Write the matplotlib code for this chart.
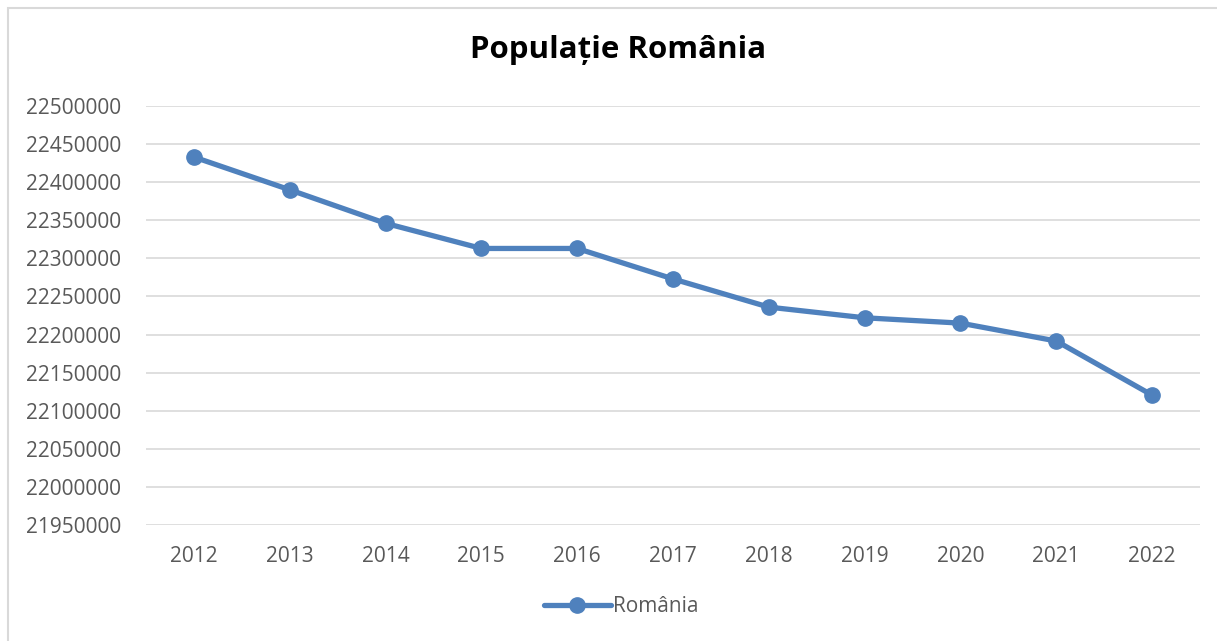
import matplotlib.pyplot as plt
from matplotlib.patches import Rectangle

# Data
years = ['2012', '2013', '2014', '2015', '2016', '2017',
         '2018', '2019', '2020', '2021', '2022']
population = [22433000, 22390000, 22346000, 22313000, 22313000, 22273000,
              22236000, 22222000, 22215000, 22191500, 22120500]
yticks = list(range(21950000, 22500001, 50000))

plt.rcParams['font.family'] = ['Open Sans', 'DejaVu Sans']

fig = plt.figure(figsize=(12.17, 6.41), dpi=100)

# grey chart frame like the Excel chart area
frame = Rectangle((8 / 1217, -0.01), 1.0, 1 - 8 / 641 + 0.01,
                  transform=fig.transFigure, fill=False,
                  edgecolor='#d9d9d9', linewidth=1.5)
fig.patches.append(frame)

ax = fig.add_axes([146 / 1217, 1 - 525 / 641, 1054 / 1217, 419 / 641])
x = list(range(len(years)))
ax.plot(x, population, color='#4f81bd', linewidth=3.8, marker='o',
        markersize=11, label='România', solid_capstyle='round')

ax.set_xlim(-0.5, len(years) - 0.5)
ax.set_ylim(yticks[0], yticks[-1])
ax.set_xticks(x)
ax.set_xticklabels(years)
ax.set_yticks(yticks)
ax.set_yticklabels([str(v) for v in yticks])
ax.grid(axis='y', color='#d9d9d9', linewidth=1.2)
ax.set_axisbelow(True)
for s in ax.spines.values():
    s.set_visible(False)
ax.tick_params(length=0, labelsize=15, colors='#595959', pad=18)
ax.tick_params(axis='x', pad=15)

fig.text(618 / 1217, 1 - 50 / 641, 'Populație România', ha='center',
         va='center', fontsize=22.5, fontweight='bold', color='black')

fig.legend(*ax.get_legend_handles_labels(), loc='center',
           bbox_to_anchor=(621 / 1217, 1 - 607 / 641), frameon=False,
           fontsize=15, labelcolor='#595959', handlelength=3.2,
           handletextpad=0.1)

plt.savefig('out.png', dpi=100)
